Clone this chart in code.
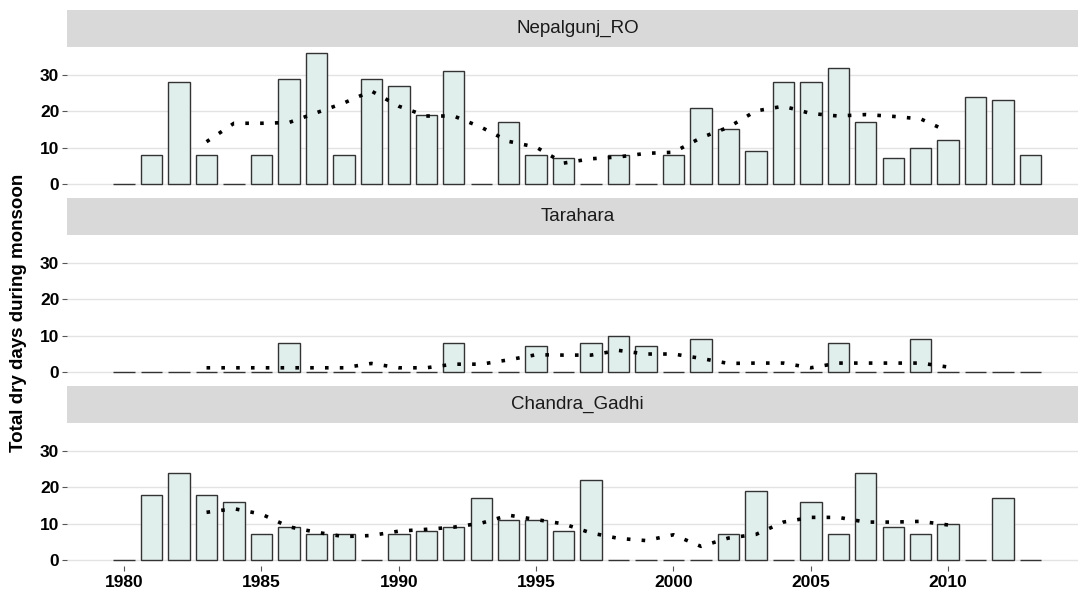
import numpy as np, pandas as pd, matplotlib
matplotlib.use("Agg")
import matplotlib.pyplot as plt, seaborn as sb

# Jours secs par station (mousson), 1980-2013
years = list(range(1980, 2014))
stations = ["Nepalgunj_RO", "Tarahara", "Chandra_Gadhi"]

nepalgunj = [0, 8, 28, 8, 0, 8, 29, 36, 8, 29, 27, 19, 31, 0, 17, 8, 7, 0, 8, 0,
             8, 21, 15, 9, 28, 28, 32, 17, 7, 10, 12, 24, 23, 8]
tarahara = [0, 0, 0, 0, 0, 0, 8, 0, 0, 0, 0, 0, 8, 0, 0, 7, 0, 8, 10, 7,
            0, 9, 0, 0, 0, 0, 8, 0, 0, 9, 0, 0, 0, 0]
chandra = [0, 18, 24, 18, 16, 7, 9, 7, 7, 0, 7, 8, 9, 17, 11, 11, 8, 22, 0, 0,
           0, 0, 7, 19, 0, 16, 7, 24, 9, 7, 10, 0, 17, 0]

# courbe pointillée, 1983-2010
ma_years = list(range(1983, 2011))
nepalgunj_ma = [11.6, 16.7, 16.7, 16.9, 19.6, 22.3, 25.6, 21.4, 18.7, 18.7, 15.6, 11.7, 10.1, 5.7,
                6.9, 7.4, 8.4, 8.7, 12.7, 15.6, 20.1, 21.4, 19.4, 18.7, 19.1, 18.6, 17.9, 14.4]
tarahara_ma = [1.1, 1.1, 1.1, 1.1, 1.1, 1.1, 2.3, 1.1, 1.1, 2.1, 2.1, 3.3, 4.7, 4.6,
               4.6, 5.9, 4.9, 4.9, 3.7, 2.3, 2.4, 2.4, 1.1, 2.4, 2.4, 2.4, 2.4, 1.3]
chandra_ma = [13.1, 14.1, 12.6, 9.1, 7.6, 6.4, 6.7, 7.9, 8.4, 9.0, 10.1, 12.3, 11.1, 9.9,
              7.4, 5.9, 5.3, 6.9, 3.7, 6.0, 7.0, 10.4, 11.7, 11.7, 10.4, 10.4, 10.6, 9.6]

valeurs = [nepalgunj, tarahara, chandra]
moyennes = [nepalgunj_ma, tarahara_ma, chandra_ma]

sb.set_theme(style="white")
plt.rcParams['font.family'] = ['Liberation Sans', 'DejaVu Sans']

W, H = 1078, 597
fig = plt.figure(figsize=(W / 100, H / 100), dpi=100)

left = 67 / W
width = (1087.7 - 67) / W
strip_h, panel_h, gap = 36.5, 143.5, 8.0
top = 10.3

for i, (nom, v, m) in enumerate(zip(stations, valeurs, moyennes)):
    s_top = top + i * (strip_h + panel_h + gap)
    p_top = s_top + strip_h

    # bandeau gris
    sax = fig.add_axes([left, 1 - (s_top + strip_h) / H, width, strip_h / H])
    sax.set_facecolor("#d9d9d9")
    sax.set_xticks([]); sax.set_yticks([])
    for sp in sax.spines.values():
        sp.set_visible(False)
    sax.text(0.5, 0.5, nom, ha="center", va="center", fontsize=13.5, color="#1a1a1a",
             transform=sax.transAxes)

    ax = fig.add_axes([left, 1 - (p_top + panel_h) / H, width, panel_h / H])
    df = pd.DataFrame({"annee": years, "jours": v})
    sb.barplot(data=df, x="annee", y="jours", native_scale=True, width=0.78,
               color="#e0eeec", saturation=1, edgecolor="#333333", linewidth=1.0,
               errorbar=None, ax=ax, zorder=2)
    sb.lineplot(x=ma_years, y=m, ax=ax, color="black", linewidth=2.6,
                linestyle=(0, (1, 3.1)), zorder=3)

    ax.set_xlim(1977.92, 2015.08)
    ax.set_ylim(-1.8, 37.8)
    ax.set_yticks([0, 10, 20, 30])
    ax.yaxis.grid(True, color="#e3e3e3", linewidth=1.0, zorder=0)
    ax.xaxis.grid(False)
    ax.set_axisbelow(True)
    for sp in ax.spines.values():
        sp.set_visible(False)
    ax.set_xlabel(""); ax.set_ylabel("")
    ax.tick_params(axis="y", left=True, length=3.5, width=0.8, color="#555555",
                   labelsize=12.5, labelcolor="black", pad=2)
    for t in ax.get_yticklabels():
        t.set_fontweight("bold")
    if i < 2:
        ax.set_xticks([])
    else:
        ax.set_xticks([1980, 1985, 1990, 1995, 2000, 2005, 2010])
        ax.set_xticklabels(["1980", "1985", "1990", "1995", "2000", "2005", "2010"])
        ax.tick_params(axis="x", bottom=True, length=3.5, width=0.8, color="#555555",
                       labelsize=12.5, labelcolor="black", pad=3)
        for t in ax.get_xticklabels():
            t.set_fontweight("bold")

fig.text(19 / W, 1 - 313 / H, "Total dry days during monsoon", rotation=90,
         ha="center", va="center", fontsize=13.5, fontweight="bold", color="black")

plt.savefig("out.png", dpi=100)
